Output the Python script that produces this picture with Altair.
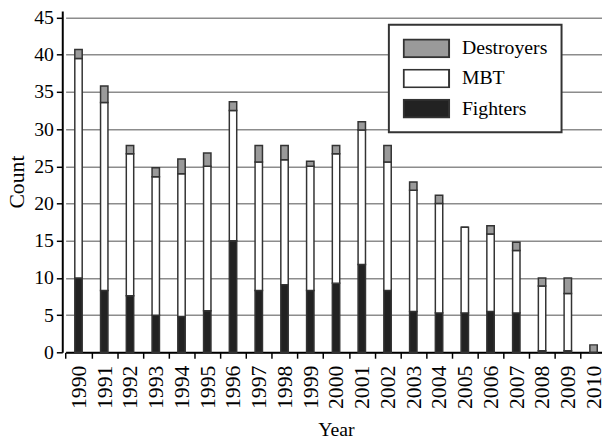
import altair as alt
import pandas as pd

years = [str(y) for y in range(1990, 2011)]
fighters = [10.0, 8.3, 7.6, 5.0, 4.8, 5.6, 15.0, 8.3, 9.1, 8.3, 9.3, 11.8, 8.3, 5.5, 5.3, 5.3, 5.5, 5.3, 0.2, 0.2, 0.0]
mbt = [29.5, 25.3, 19.1, 18.6, 19.2, 19.4, 17.5, 17.3, 16.8, 16.7, 17.4, 18.1, 17.3, 16.3, 14.7, 11.5, 10.4, 8.4, 8.7, 7.7, 0.0]
destroyers = [1.2, 2.2, 1.1, 1.2, 2.0, 1.8, 1.2, 2.2, 1.9, 0.7, 1.1, 1.1, 2.2, 1.1, 1.1, 0.0, 1.1, 1.1, 1.1, 2.1, 1.0]

series_names = ["Destroyers", "MBT", "Fighters"]
series_colors = ["#9a9a9a", "#ffffff", "#222222"]
y_ticks = [0, 5, 10, 15, 20, 25, 30, 35, 40, 45]

rows = []
for i, yr in enumerate(years):
    for order, (name, vals) in enumerate([("Fighters", fighters), ("MBT", mbt), ("Destroyers", destroyers)]):
        rows.append({"year": yr, "series": name, "count": vals[i], "ord": order})
df = pd.DataFrame(rows)

FONT = "Liberation Serif"

chart = alt.Chart(df).mark_bar(size=7.5, stroke="#333333", strokeWidth=1.5).encode(
    x=alt.X(
        "year:N",
        scale=alt.Scale(range=[3.4, 551.5], paddingInner=0, paddingOuter=0),
        axis=alt.Axis(
            title="Year", labelAngle=270, labelAlign="right", labelBaseline="middle",
            tickBand="extent", tickSize=6, tickWidth=1.5, tickColor="#000000",
            domainColor="#000000", domainWidth=2, labelPadding=7, titlePadding=11,
            labelFontSize=22, titleFontSize=20, labelColor="#000000", titleColor="#000000",
            titleFontWeight="normal", labelFont=FONT, titleFont=FONT, grid=False,
        ),
    ),
    y=alt.Y(
        "count:Q",
        stack="zero",
        scale=alt.Scale(domain=[0, 45.9], nice=False),
        axis=alt.Axis(
            title="Count", values=y_ticks, grid=True, gridColor="#8c8c8c", gridWidth=1.5,
            tickSize=6, tickWidth=1.5, tickColor="#000000", domainColor="#000000",
            domainWidth=2, labelPadding=3, titlePadding=5, labelFontSize=20,
            titleFontSize=22, labelColor="#000000", titleColor="#000000",
            titleFontWeight="normal", labelFont=FONT, titleFont=FONT,
        ),
    ),
    fill=alt.Fill(
        "series:N",
        scale=alt.Scale(domain=series_names, range=series_colors),
        legend=alt.Legend(
            title=None, orient="none", legendX=331, legendY=14,
            symbolType="M-1,-0.391L1,-0.391L1,0.391L-1,0.391Z",
            symbolSize=2116, clipHeight=20, rowPadding=10.5, labelOffset=12,
            symbolStrokeColor="#333333", symbolStrokeWidth=2, symbolOpacity=1,
            labelFontSize=20, labelFont=FONT, labelColor="#000000",
            padding=14, fillColor="#ffffff", strokeColor="#333333",
        ),
    ),
    order=alt.Order("ord:Q", sort="ascending"),
).properties(
    width=547,
    height=346,
    autosize=alt.AutoSizeParams(type="none"),
    padding={"left": 55, "top": 0, "right": 0, "bottom": 91},
).configure(font=FONT, background="#ffffff").configure_view(
    strokeWidth=0
).configure_legend(strokeWidth=2, cornerRadius=0)

chart.save("out.html", embed_options={"renderer": "svg", "actions": False})
